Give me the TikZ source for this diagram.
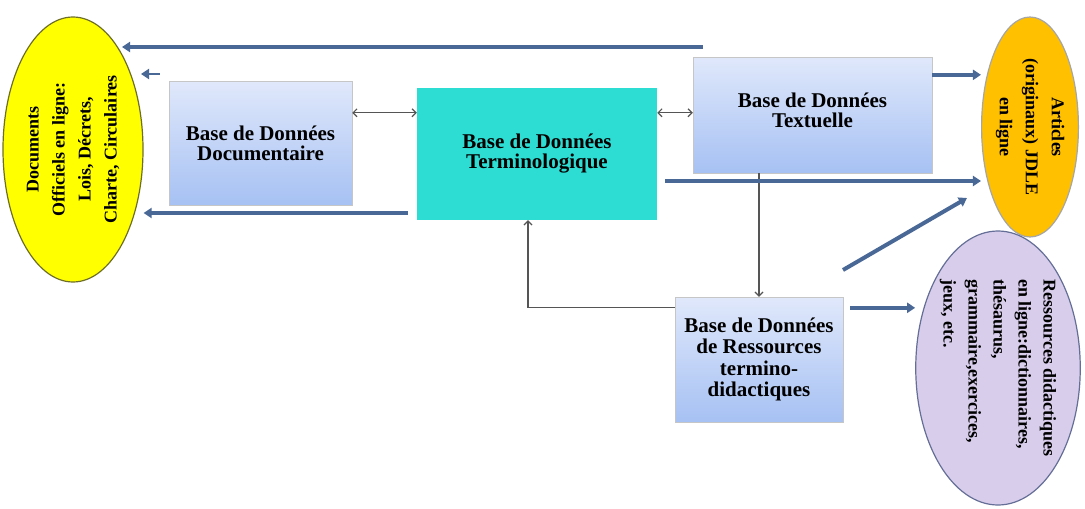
\documentclass[tikz,border=0pt]{standalone}
\usepackage{fontspec}
\setmainfont{Liberation Serif}
\usepackage{xcolor}
\usepackage{tikz}
\usetikzlibrary{positioning,arrows.meta,shapes.geometric}

\definecolor{barblue}{RGB}{74,104,150}
\definecolor{boxtop}{RGB}{224,232,251}
\definecolor{boxbot}{RGB}{166,193,243}
\definecolor{termcyan}{RGB}{45,221,211}
\definecolor{docyellow}{RGB}{255,255,0}
\definecolor{artorange}{RGB}{255,192,0}
\definecolor{reslilac}{RGB}{216,206,236}
\definecolor{thingray}{RGB}{85,85,85}

\begin{document}
\begin{tikzpicture}[
  x=1pt, y=-1pt,
  font=\bfseries\fontsize{21}{20}\selectfont,
  base/.style={draw=gray!45,top color=boxtop,bottom color=boxbot,align=center,
               inner sep=2pt},
  termbox/.style={fill=termcyan,align=center,inner sep=2pt},
  oval/.style={ellipse,inner sep=0pt,line width=1.2pt},
  fat/.style={-{Triangle[length=8pt,width=10pt]},line width=4pt,barblue},
  thin/.style={-{Straight Barb[length=4pt,width=8pt]},line width=1.2pt,thingray},
  both/.style={thin,{Straight Barb[length=4pt,width=8pt]}-{Straight Barb[length=4pt,width=8pt]}}
]
\useasboundingbox (0,0) rectangle (1085,509);

%% ---- the three ovals (text turned with them) ---------------------------
\node[oval, draw={rgb,255:red,110;green,110;blue,40}, fill=docyellow, rotate=90,
      minimum width=265pt, minimum height=140pt, align=center,
      font=\bfseries\fontsize{18}{26}\selectfont] (yel) at (73,149.5)
  {Documents\\Officiels en ligne:\\Lois, Décrets,\\Charte, Circulaires};
\node[oval, draw=gray!70, fill=artorange, rotate=-90,
      minimum width=220pt, minimum height=80pt, align=center,
      font=\bfseries\fontsize{18}{26}\selectfont] (org) at (1030,127)
  {Articles\\(originaux) JDLE\\en ligne};
\node[oval, draw={rgb,255:red,100;green,110;blue,150}, fill=reslilac, rotate=-90,
      minimum width=274pt, minimum height=162pt, align=left,
      font=\bfseries\fontsize{18}{25}\selectfont] (pur) at (998,368)
  {Ressources didactiques\\en ligne:dictionnaires,\\thésaurus,\\grammaire,exercices,\\jeux, etc.};

%% ---- the four data bases ------------------------------------------------
\node[base, minimum width=183pt, minimum height=124pt] (doc) at (260.5,143)
  {Base de Données\\Documentaire};
\node[termbox, minimum width=240pt, minimum height=132pt] (ter) at (537,154)
  {Base de Données\\Terminologique};
\node[base, minimum width=239pt, minimum height=116pt] (txt) at (812.5,115)
  {Base de Données\\Textuelle\\[-10pt]};
\node[base, minimum width=168pt, minimum height=125pt,
      font=\bfseries\fontsize{21}{21.5}\selectfont] (res) at (759,359.5)
  {Base de Données\\de Ressources\\termino-\\didactiques};

%% ---- thin links between the bases ---------------------------------------
\draw[both] ([yshift=-32pt]doc.north east) -- ([yshift=-32pt]doc.north east -| ter.west);
\draw[both] ([yshift=-25pt]ter.north east) -- ([yshift=-25pt]ter.north east -| txt.west);
\draw[thin] (res.north |- txt.south) -- (res.north);
\draw[thin] ([yshift=-11pt]res.north west) -| ([xshift=-9pt]ter.south);

%% ---- thick bars out to the ovals ----------------------------------------
\coordinate (topR)  at (703,47);
\coordinate (topL)  at (122,47);
\coordinate (stubR) at (160,74);
\coordinate (stubL) at (141,74);
\coordinate (botR)  at (408,213);
\coordinate (barL)  at (665,181);
\coordinate (diagA) at (843,270);
\coordinate (diagB) at (967,198);

\draw[fat] (topR) -- (topL);
\draw[fat,line width=2.5pt] (stubR) -- (stubL);
\draw[fat] (botR) -- (botR -| yel.south);
\draw[fat] ([yshift=-18pt]txt.north east) -- ([yshift=-18pt]txt.north east -| org.south);
\draw[fat] (barL) -- (barL -| org.south);
\draw[fat] (diagA) -- (diagB);
\draw[fat] ([shift={(7pt,-11pt)}]res.north east) -- ([yshift=-11pt]res.north east -| pur.south);
\end{tikzpicture}
\end{document}
